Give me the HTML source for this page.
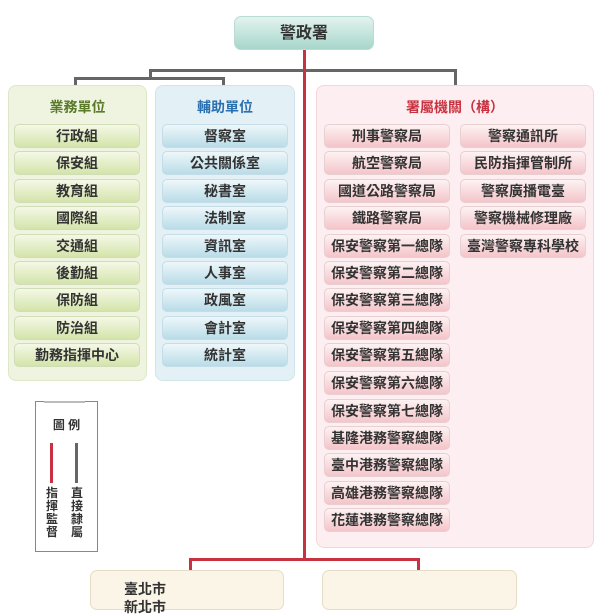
<!DOCTYPE html>
<html><head><meta charset="utf-8"><style>
body{margin:0;width:600px;height:600px;overflow:hidden;background:#fff;position:relative;font-family:"Liberation Sans","Noto Sans CJK TC",sans-serif;}
div{position:absolute;box-sizing:border-box;}
.l{background:#666;}
.r{background:#c8313f;}
.p{border-radius:8px;}
.it{height:24px;line-height:23px;text-align:center;font-size:14px;color:#333;border-radius:5px;font-weight:bold;}
.g{left:14px;width:126px;background:linear-gradient(#f4f8e6,#d4e4aa);border:1px solid #d0ddb6;}
.b{left:162px;width:126px;background:linear-gradient(#eef7fa,#b9dce8);border:1px solid #c4dde6;}
.k{width:126px;background:linear-gradient(#fdf2f3,#f4c5c9);border:1px solid #e8cfd2;}
.k1{left:324px}.k2{left:460px}
.t{font-size:14px;font-weight:bold;text-align:center;}
</style></head><body>
<div style="left:234px;top:16px;width:140px;height:34px;border-radius:7px;background:linear-gradient(#e4f3ef,#a7d6cb);border:1px solid #b9ddd4;text-align:center;line-height:33px;font-size:16px;font-weight:bold;color:#333">警政署</div>
<div class="l" style="left:149px;top:69px;width:307px;height:3px"></div>
<div class="l" style="left:149px;top:69px;width:3px;height:10px"></div>
<div class="l" style="left:74px;top:77px;width:150px;height:3px"></div>
<div class="l" style="left:74px;top:77px;width:3px;height:9px"></div>
<div class="l" style="left:222px;top:77px;width:3px;height:9px"></div>
<div class="l" style="left:454px;top:69px;width:3px;height:17px"></div>
<div class="r" style="left:303px;top:50px;width:3px;height:510px"></div>
<div class="r" style="left:189px;top:558px;width:231px;height:3px"></div>
<div class="r" style="left:189px;top:558px;width:3px;height:13px"></div>
<div class="r" style="left:417px;top:558px;width:3px;height:13px"></div>

<div class="p" style="left:8px;top:85px;width:139px;height:296px;background:#eef4e0;border:1px solid #dde8c8"></div>
<div class="t" style="left:8px;top:97px;width:139px;color:#5a7a2a">業務單位</div>
<div class="p" style="left:155px;top:85px;width:140px;height:296px;background:#e3f1f6;border:1px solid #cfe4ec"></div>
<div class="t" style="left:155px;top:97px;width:140px;color:#2a6fb0">輔助單位</div>
<div class="p" style="left:316px;top:85px;width:278px;height:463px;background:#fdeff1;border:1px solid #f3d6da"></div>
<div class="t" style="left:316px;top:97px;width:278px;color:#c8313f">署屬機關（構）</div>

<div class="it g" style="top:124px">行政組</div>
<div class="it g" style="top:151px">保安組</div>
<div class="it g" style="top:179px">教育組</div>
<div class="it g" style="top:206px">國際組</div>
<div class="it g" style="top:234px">交通組</div>
<div class="it g" style="top:261px">後勤組</div>
<div class="it g" style="top:288px">保防組</div>
<div class="it g" style="top:316px">防治組</div>
<div class="it g" style="top:343px">勤務指揮中心</div>

<div class="it b" style="top:124px">督察室</div>
<div class="it b" style="top:151px">公共關係室</div>
<div class="it b" style="top:179px">秘書室</div>
<div class="it b" style="top:206px">法制室</div>
<div class="it b" style="top:234px">資訊室</div>
<div class="it b" style="top:261px">人事室</div>
<div class="it b" style="top:288px">政風室</div>
<div class="it b" style="top:316px">會計室</div>
<div class="it b" style="top:343px">統計室</div>

<div class="it k k1" style="top:124px">刑事警察局</div>
<div class="it k k1" style="top:151px">航空警察局</div>
<div class="it k k1" style="top:179px">國道公路警察局</div>
<div class="it k k1" style="top:206px">鐵路警察局</div>
<div class="it k k1" style="top:234px">保安警察第一總隊</div>
<div class="it k k1" style="top:261px">保安警察第二總隊</div>
<div class="it k k1" style="top:288px">保安警察第三總隊</div>
<div class="it k k1" style="top:316px">保安警察第四總隊</div>
<div class="it k k1" style="top:343px">保安警察第五總隊</div>
<div class="it k k1" style="top:371px">保安警察第六總隊</div>
<div class="it k k1" style="top:399px">保安警察第七總隊</div>
<div class="it k k1" style="top:426px">基隆港務警察總隊</div>
<div class="it k k1" style="top:453px">臺中港務警察總隊</div>
<div class="it k k1" style="top:481px">高雄港務警察總隊</div>
<div class="it k k1" style="top:508px">花蓮港務警察總隊</div>

<div class="it k k2" style="top:124px">警察通訊所</div>
<div class="it k k2" style="top:151px">民防指揮管制所</div>
<div class="it k k2" style="top:179px">警察廣播電臺</div>
<div class="it k k2" style="top:206px">警察機械修理廠</div>
<div class="it k k2" style="top:234px">臺灣警察專科學校</div>

<div style="left:35px;top:401px;width:63px;height:151px;border:1px solid #888;background:#fff"></div>
<div style="left:44px;top:401px;width:41px;height:2px;background:#bbb"></div>
<div style="left:35px;top:416px;width:63px;text-align:center;font-size:12px;font-weight:bold;color:#333">圖 例</div>
<div class="r" style="left:50px;top:443px;width:3px;height:40px"></div>
<div class="l" style="left:75px;top:443px;width:3px;height:40px"></div>
<div style="left:44px;top:487px;width:16px;font-size:12px;line-height:13px;font-weight:bold;color:#333;text-align:center">指<br>揮<br>監<br>督</div>
<div style="left:69px;top:487px;width:16px;font-size:12px;line-height:13px;font-weight:bold;color:#333;text-align:center">直<br>接<br>隸<br>屬</div>

<div style="left:90px;top:570px;width:194px;height:40px;border-radius:7px;background:#fbf5e8;border:1px solid #e6ddc8"></div>
<div style="left:322px;top:570px;width:195px;height:40px;border-radius:7px;background:#fbf5e8;border:1px solid #e6ddc8"></div>
<div style="left:124px;top:580px;font-size:14px;line-height:18px;font-weight:bold;color:#333">臺北市<br>新北市</div>
</body></html>
